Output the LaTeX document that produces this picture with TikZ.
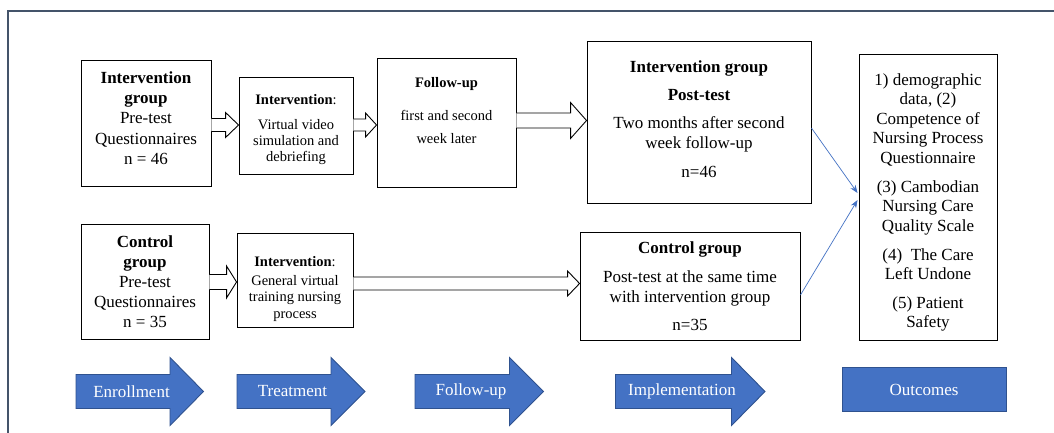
\documentclass[tikz,border=0pt]{standalone}
\usepackage{fontspec}
\setmainfont{Liberation Serif}
\usetikzlibrary{calc,arrows.meta}
\definecolor{frameblue}{HTML}{44546A}
\definecolor{accent}{HTML}{4472C4}
\definecolor{accentdark}{HTML}{2F528F}
\newcommand\fsz[2]{\fontsize{#1}{#2}\selectfont}
% hollow block arrow: #1 start point (gives y), #2 end point (gives tip x),
% #3 shaft half height, #4 head half height, #5 head length
\newcommand\blockarrow[5]{%
  \draw[hollow] let \p1=(#1), \p2=(#2) in
    (\x1,\y1+#3) -- (\x2-#5,\y1+#3) -- (\x2-#5,\y1+#4) -- (\x2,\y1)
    -- (\x2-#5,\y1-#4) -- (\x2-#5,\y1-#3) -- (\x1,\y1-#3);}
\begin{document}
\begin{tikzpicture}[x=1pt,y=-1pt,
  box/.style={draw=black, line width=0.9pt, inner sep=0pt, fill=white},
  txt/.style={align=center, inner sep=0pt},
  hollow/.style={draw=black, line width=0.9pt, fill=white},
  thinarrow/.style={draw=accent, line width=0.7pt, -{Stealth[length=8pt,width=6pt]}},
  bluearrow/.style={fill=accent, draw=accentdark, line width=0.9pt, line join=miter},
  bluetxt/.style={text=white, inner sep=0pt, font=\fsz{17}{20}}]
\useasboundingbox (0,0) rectangle (1054,433);
\fill[white] (0,0) rectangle (1054,433);
% frame
\draw[frameblue, line width=1.5pt] (8,433) -- (8,11) -- (1054,11);

% boxes
\node[box, minimum width=130pt, minimum height=126pt] (b1) at (146,123) {};
\node[box, minimum width=114pt, minimum height=97pt] (b2) at (296,125.5) {};
\node[box, minimum width=139pt, minimum height=129pt] (b3) at (446.5,122.5) {};
\node[box, minimum width=224pt, minimum height=162pt] (b4) at (699,122) {};
\node[box, minimum width=138pt, minimum height=286pt] (out) at (928,197) {};
\node[box, minimum width=128pt, minimum height=115pt] (b5) at (145,281.5) {};
\node[box, minimum width=116pt, minimum height=94pt] (b6) at (295,280) {};
\node[box, minimum width=220pt, minimum height=108pt] (b7) at (690,286) {};

% texts
\node[txt, font=\fsz{17}{20.2}] (t1) at (146,118)
  {\textbf{Intervention}\\\textbf{group}\\Pre-test\\Questionnaires\\n = 46};
\node[txt, font=\fsz{14.5}{16}] (t2) at (296,130)
  {\textbf{Intervention}:\\[9pt]Virtual video\\simulation and\\debriefing};
\node[txt, font=\fsz{14.5}{23}] (t3) at (446.5,111)
  {\textbf{Follow-up}\\[10pt]first and second\\week later};
\node[txt, font=\fsz{17}{20}] (t4) at (699,119.5)
  {\textbf{Intervention group}\\[8pt]\textbf{Post-test}\\[8pt]Two months after second\\week follow-up\\[9pt]n=46};
\node[txt, font=\fsz{17}{19.5}] (tout) at (928,202.5)
  {1) demographic\\data, (2)\\Competence of\\Nursing Process\\Questionnaire\\[9.5pt](3) Cambodian\\Nursing Care\\Quality Scale\\[9.5pt](4)\ \ The Care\\Left Undone\\[9pt](5) Patient\\Safety};
\node[txt, font=\fsz{17}{20}] (t5) at (145,282)
  {\textbf{Control}\\\textbf{group}\\Pre-test\\Questionnaires\\n = 35};
\node[txt, font=\fsz{14.5}{16.5}] (t6) at (295,289)
  {\textbf{Intervention}:\\[2.5pt]General virtual\\training nursing\\process};
\node[txt, font=\fsz{17}{20}] (t7) at (690,286.5)
  {\textbf{Control group}\\[9pt]Post-test at the same time\\with intervention group\\[8pt]n=35};

% hollow block arrows
\blockarrow{$(b1.east)+(0,2)$}{b2.west}{6.5pt}{12.5pt}{13pt}
\blockarrow{$(b2.east)+(0,-0.5)$}{b3.west}{6pt}{12pt}{11pt}
\blockarrow{$(b3.east)+(0,-2)$}{b4.west}{7.5pt}{18pt}{16pt}
\blockarrow{$(b5.east)+(0,0.5)$}{b6.west}{7.5pt}{16pt}{10pt}
\blockarrow{$(b6.east)+(0,3.5)$}{b7.west}{6.5pt}{12.5pt}{12pt}

% thin blue connectors
\draw[thinarrow] ($(b4.east)+(0,6)$) -- ($(out.west)+(-1,-4)$);
\draw[thinarrow] ($(b7.east)+(0,9)$) -- ($(out.west)+(-1,3)$);

% bottom stage arrows
\path[bluearrow] (76,374.5) -- (170,374.5) -- (170,357.5) -- (203.5,391.5) -- (170,425.5) -- (170,408.5) -- (76,408.5) -- cycle;
\node[bluetxt] (s1) at (131.5,391.5) {Enrollment};
\path[bluearrow] (237,374.5) -- (331,374.5) -- (331,357.5) -- (365,391.5) -- (331,425.5) -- (331,408.5) -- (237,408.5) -- cycle;
\node[bluetxt] (s2) at (292.5,391.5) {Treatment};
\path[bluearrow] (415,374.5) -- (509.5,374.5) -- (509.5,357.5) -- (543.5,391.5) -- (509.5,425.5) -- (509.5,408.5) -- (415,408.5) -- cycle;
\node[bluetxt] (s3) at (471,391.5) {Follow-up};
\path[bluearrow] (615.5,374.5) -- (731.5,374.5) -- (731.5,357.5) -- (765,391.5) -- (731.5,425.5) -- (731.5,408.5) -- (615.5,408.5) -- cycle;
\node[bluetxt] (s4) at (682,391.5) {Implementation};
\node[fill=accent, draw=accentdark, line width=0.9pt, minimum width=164pt, minimum height=44pt, inner sep=0pt] (s5) at (924,389.5) {};
\node[bluetxt] (s5t) at (924,389.5) {Outcomes};
\end{tikzpicture}
\end{document}
